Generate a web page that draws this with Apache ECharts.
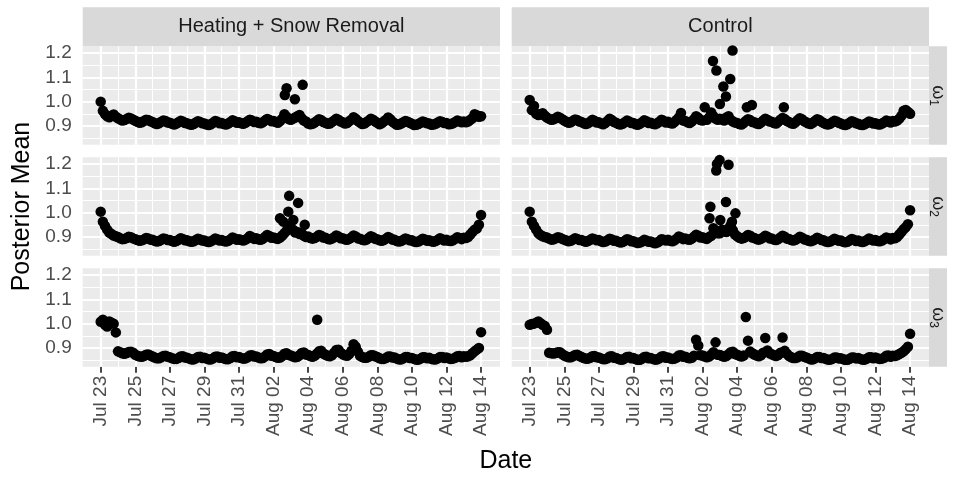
<!DOCTYPE html>
<html>
<head>
<meta charset="utf-8">
<script src="https://cdn.jsdelivr.net/npm/echarts@6/dist/echarts.min.js"></script>
<style>
  html, body { margin: 0; padding: 0; background: #ffffff; }
  #chart { width: 957px; height: 477px; }
</style>
</head>
<body>
<div id="chart"></div>
<script>
// ---- data -------------------------------------------------------------
// Day 0 is Jul 23; posterior means are sampled every 3 hours (0.125 day),
// one row of eight values per day, plus the final midnight value.
const startDateUTC = Date.UTC(2019, 6, 23);
const sampleStepDays = 0.125;
const monthNames = ['Jan','Feb','Mar','Apr','May','Jun','Jul','Aug','Sep','Oct','Nov','Dec'];

const treatments = ['Heating + Snow Removal', 'Control'];
const parameterSubscripts = ['1', '2', '3'];

const xTickDays = [0, 2, 4, 6, 8, 10, 12, 14, 16, 18, 20, 22];
const xMinorDays = [1, 3, 5, 7, 9, 11, 13, 15, 17, 19, 21];
const yTickValues = [0.9, 1.0, 1.1, 1.2];
const yMinorValues = [0.85, 0.95, 1.05, 1.15];

// omega 1, Heating + Snow Removal
const omega1Heating = [
  1.000, 0.962, 0.948, 0.940, 0.936, 0.942, 0.947, 0.938,
  0.932, 0.927, 0.922, 0.924, 0.929, 0.934, 0.931, 0.926,
  0.921, 0.917, 0.913, 0.915, 0.920, 0.926, 0.924, 0.919,
  0.916, 0.911, 0.908, 0.911, 0.917, 0.922, 0.920, 0.914,
  0.913, 0.909, 0.906, 0.910, 0.915, 0.921, 0.918, 0.912,
  0.911, 0.907, 0.905, 0.908, 0.914, 0.919, 0.916, 0.911,
  0.910, 0.906, 0.904, 0.907, 0.913, 0.920, 0.917, 0.911,
  0.912, 0.908, 0.906, 0.910, 0.916, 0.923, 0.919, 0.913,
  0.915, 0.911, 0.909, 0.913, 0.919, 0.926, 0.922, 0.916,
  0.917, 0.913, 0.911, 0.915, 0.922, 0.929, 0.925, 0.919,
  0.920, 0.916, 0.913, 0.920, 0.930, 0.948, 0.938, 0.928,
  0.925, 0.930, 0.935, 0.940, 0.945, 0.932, 0.922, 0.918,
  0.910, 0.907, 0.909, 0.914, 0.920, 0.928, 0.924, 0.916,
  0.913, 0.909, 0.910, 0.916, 0.922, 0.930, 0.926, 0.918,
  0.915, 0.910, 0.912, 0.919, 0.926, 0.936, 0.930, 0.920,
  0.914, 0.908, 0.910, 0.916, 0.922, 0.930, 0.926, 0.918,
  0.913, 0.907, 0.911, 0.918, 0.925, 0.935, 0.928, 0.917,
  0.911, 0.905, 0.906, 0.910, 0.915, 0.920, 0.917, 0.913,
  0.909, 0.904, 0.905, 0.908, 0.913, 0.918, 0.915, 0.911,
  0.910, 0.905, 0.906, 0.909, 0.914, 0.919, 0.916, 0.912,
  0.912, 0.907, 0.908, 0.911, 0.916, 0.922, 0.919, 0.915,
  0.918, 0.915, 0.918, 0.925, 0.932, 0.948, 0.944, 0.938,
  0.940
];
const omega1HeatingExtra = [[10.65, 1.027], [10.75, 1.055], [11.23, 1.010], [11.68, 1.069]];

// omega 1, Control
const omega1Control = [
  1.007, 0.965, 0.982, 0.950, 0.945, 0.948, 0.952, 0.942,
  0.935, 0.929, 0.925, 0.927, 0.932, 0.938, 0.934, 0.928,
  0.922, 0.917, 0.913, 0.915, 0.921, 0.927, 0.924, 0.918,
  0.916, 0.911, 0.908, 0.911, 0.917, 0.925, 0.921, 0.914,
  0.915, 0.910, 0.907, 0.912, 0.920, 0.930, 0.924, 0.916,
  0.913, 0.908, 0.906, 0.909, 0.915, 0.922, 0.918, 0.912,
  0.912, 0.907, 0.905, 0.909, 0.915, 0.923, 0.919, 0.912,
  0.913, 0.909, 0.907, 0.911, 0.917, 0.926, 0.921, 0.914,
  0.917, 0.912, 0.910, 0.916, 0.925, 0.935, 0.953, 0.922,
  0.920, 0.915, 0.912, 0.918, 0.928, 0.940, 0.934, 0.924,
  0.922, 0.977, 0.925, 0.935, 0.955, 0.940, 0.930, 0.925,
  0.930, 0.926, 0.922, 0.935, 0.940, 0.925, 0.918, 0.914,
  0.912, 0.908, 0.906, 0.912, 0.920, 0.928, 0.924, 0.916,
  0.915, 0.910, 0.908, 0.914, 0.922, 0.930, 0.926, 0.918,
  0.917, 0.912, 0.910, 0.917, 0.926, 0.933, 0.929, 0.920,
  0.916, 0.911, 0.909, 0.915, 0.924, 0.932, 0.928, 0.919,
  0.915, 0.910, 0.908, 0.913, 0.920, 0.928, 0.924, 0.917,
  0.912, 0.908, 0.906, 0.909, 0.915, 0.921, 0.918, 0.913,
  0.910, 0.906, 0.904, 0.907, 0.913, 0.919, 0.916, 0.911,
  0.909, 0.905, 0.904, 0.907, 0.912, 0.918, 0.915, 0.910,
  0.911, 0.907, 0.906, 0.910, 0.915, 0.922, 0.919, 0.914,
  0.920, 0.918, 0.922, 0.930, 0.942, 0.962, 0.966, 0.958,
  0.950
];
const omega1ControlExtra = [[10.6, 1.167], [10.8, 1.128], [11.0, 0.990], [11.2, 1.062],
  [11.35, 1.021], [11.6, 1.093], [11.73, 1.210], [12.56, 0.977], [12.85, 0.986], [14.7, 0.977]];

// omega 2, Heating + Snow Removal
const omega2Heating = [
  1.004, 0.963, 0.945, 0.930, 0.918, 0.912, 0.906, 0.903,
  0.900, 0.895, 0.891, 0.892, 0.896, 0.901, 0.899, 0.894,
  0.891, 0.887, 0.884, 0.886, 0.890, 0.896, 0.894, 0.889,
  0.888, 0.884, 0.881, 0.883, 0.888, 0.894, 0.892, 0.887,
  0.887, 0.883, 0.880, 0.883, 0.888, 0.895, 0.892, 0.886,
  0.886, 0.882, 0.880, 0.882, 0.887, 0.893, 0.890, 0.885,
  0.885, 0.881, 0.879, 0.882, 0.887, 0.894, 0.891, 0.885,
  0.887, 0.883, 0.881, 0.884, 0.890, 0.898, 0.894, 0.888,
  0.891, 0.887, 0.885, 0.889, 0.895, 0.904, 0.899, 0.892,
  0.895, 0.890, 0.888, 0.892, 0.900, 0.908, 0.904, 0.897,
  0.898, 0.894, 0.892, 0.898, 0.906, 0.915, 0.925, 0.945,
  0.935, 0.930, 0.918, 0.920, 0.912, 0.915, 0.905, 0.900,
  0.902, 0.896, 0.893, 0.896, 0.901, 0.908, 0.905, 0.898,
  0.897, 0.892, 0.890, 0.893, 0.899, 0.906, 0.902, 0.895,
  0.895, 0.890, 0.888, 0.892, 0.898, 0.906, 0.902, 0.894,
  0.893, 0.888, 0.886, 0.889, 0.896, 0.903, 0.899, 0.892,
  0.891, 0.886, 0.884, 0.887, 0.893, 0.900, 0.896, 0.889,
  0.888, 0.883, 0.881, 0.883, 0.888, 0.894, 0.891, 0.886,
  0.886, 0.881, 0.879, 0.881, 0.886, 0.893, 0.890, 0.884,
  0.886, 0.882, 0.880, 0.883, 0.888, 0.895, 0.891, 0.885,
  0.888, 0.884, 0.883, 0.886, 0.892, 0.899, 0.896, 0.891,
  0.897, 0.896, 0.900, 0.910, 0.920, 0.930, 0.935, 0.950,
  0.990
];
const omega2HeatingExtra = [[10.37, 0.977], [10.56, 0.963], [10.85, 1.004], [10.9, 1.069],
  [11.14, 0.970], [11.42, 1.040], [11.8, 0.950]];

// omega 2, Control
const omega2Control = [
  1.004, 0.963, 0.945, 0.930, 0.915, 0.908, 0.903, 0.900,
  0.898, 0.893, 0.889, 0.890, 0.894, 0.899, 0.897, 0.892,
  0.889, 0.885, 0.882, 0.884, 0.889, 0.895, 0.892, 0.887,
  0.887, 0.883, 0.880, 0.883, 0.888, 0.894, 0.891, 0.886,
  0.887, 0.882, 0.879, 0.881, 0.886, 0.893, 0.890, 0.884,
  0.884, 0.880, 0.877, 0.879, 0.884, 0.891, 0.888, 0.882,
  0.882, 0.878, 0.875, 0.877, 0.881, 0.888, 0.885, 0.880,
  0.881, 0.877, 0.874, 0.877, 0.882, 0.891, 0.889, 0.885,
  0.888, 0.884, 0.882, 0.886, 0.893, 0.902, 0.898, 0.891,
  0.894, 0.890, 0.888, 0.893, 0.901, 0.909, 0.905, 0.898,
  0.899, 0.895, 0.892, 0.900, 0.905, 0.936, 0.925, 0.915,
  0.915, 0.930, 0.925, 0.920, 0.935, 0.948, 0.928, 0.910,
  0.903, 0.897, 0.893, 0.896, 0.901, 0.908, 0.905, 0.898,
  0.896, 0.891, 0.889, 0.892, 0.898, 0.905, 0.901, 0.894,
  0.894, 0.889, 0.887, 0.891, 0.898, 0.905, 0.901, 0.893,
  0.892, 0.887, 0.885, 0.888, 0.894, 0.901, 0.897, 0.890,
  0.889, 0.884, 0.882, 0.885, 0.890, 0.897, 0.893, 0.887,
  0.886, 0.881, 0.879, 0.881, 0.886, 0.893, 0.889, 0.884,
  0.885, 0.880, 0.878, 0.880, 0.885, 0.892, 0.888, 0.883,
  0.885, 0.881, 0.879, 0.882, 0.887, 0.894, 0.890, 0.885,
  0.887, 0.883, 0.882, 0.885, 0.891, 0.898, 0.895, 0.890,
  0.896, 0.895, 0.900, 0.910, 0.920, 0.932, 0.940, 0.952,
  1.010
];
const omega2ControlExtra = [[10.4, 0.977], [10.45, 1.024], [10.79, 1.173], [10.83, 1.200],
  [10.98, 1.216], [11.02, 0.970], [11.35, 1.044], [11.5, 1.197], [11.7, 0.963], [11.9, 0.997]];

// omega 3, Heating + Snow Removal
const omega3Heating = [
  1.008, 1.016, 0.995, 0.988, 1.009, 1.004, 1.000, 0.964,
  0.886, 0.882, 0.878, 0.876, 0.879, 0.883, 0.884, 0.880,
  0.872, 0.868, 0.865, 0.864, 0.867, 0.872, 0.873, 0.869,
  0.865, 0.861, 0.858, 0.858, 0.862, 0.867, 0.868, 0.864,
  0.862, 0.858, 0.855, 0.855, 0.859, 0.865, 0.866, 0.861,
  0.860, 0.856, 0.853, 0.853, 0.857, 0.863, 0.864, 0.859,
  0.860, 0.856, 0.853, 0.853, 0.857, 0.864, 0.865, 0.860,
  0.861, 0.857, 0.854, 0.854, 0.859, 0.866, 0.867, 0.862,
  0.863, 0.859, 0.856, 0.857, 0.862, 0.869, 0.870, 0.865,
  0.865, 0.861, 0.858, 0.859, 0.865, 0.873, 0.875, 0.868,
  0.867, 0.863, 0.860, 0.861, 0.867, 0.876, 0.878, 0.871,
  0.869, 0.865, 0.862, 0.864, 0.870, 0.879, 0.881, 0.873,
  0.871, 0.867, 0.864, 0.868, 0.876, 0.886, 0.888, 0.877,
  0.872, 0.868, 0.866, 0.870, 0.880, 0.892, 0.893, 0.880,
  0.874, 0.870, 0.868, 0.875, 0.888, 0.915, 0.905, 0.885,
  0.868, 0.863, 0.860, 0.860, 0.864, 0.870, 0.870, 0.866,
  0.863, 0.858, 0.855, 0.855, 0.859, 0.865, 0.865, 0.861,
  0.861, 0.856, 0.853, 0.853, 0.857, 0.863, 0.863, 0.859,
  0.859, 0.855, 0.852, 0.852, 0.856, 0.862, 0.862, 0.858,
  0.860, 0.855, 0.853, 0.853, 0.857, 0.863, 0.863, 0.859,
  0.861, 0.857, 0.855, 0.856, 0.860, 0.866, 0.867, 0.862,
  0.866, 0.864, 0.866, 0.870, 0.878, 0.886, 0.893, 0.900,
  0.965
];
const omega3HeatingExtra = [[12.52, 1.016]];

// omega 3, Control
const omega3Control = [
  0.995, 0.998, 1.000, 1.004, 1.009, 1.002, 0.995, 0.990,
  0.975, 0.880, 0.878, 0.877, 0.879, 0.882, 0.882, 0.875,
  0.869, 0.865, 0.862, 0.862, 0.866, 0.871, 0.872, 0.867,
  0.863, 0.859, 0.856, 0.856, 0.860, 0.866, 0.867, 0.862,
  0.861, 0.857, 0.854, 0.854, 0.858, 0.865, 0.866, 0.860,
  0.859, 0.855, 0.852, 0.852, 0.857, 0.863, 0.864, 0.858,
  0.859, 0.854, 0.851, 0.851, 0.856, 0.863, 0.864, 0.858,
  0.859, 0.855, 0.852, 0.853, 0.858, 0.865, 0.866, 0.860,
  0.861, 0.857, 0.855, 0.856, 0.861, 0.869, 0.870, 0.864,
  0.864, 0.860, 0.858, 0.860, 0.868, 0.934, 0.910, 0.870,
  0.869, 0.865, 0.862, 0.865, 0.872, 0.882, 0.923, 0.872,
  0.871, 0.867, 0.864, 0.867, 0.874, 0.882, 0.884, 0.875,
  0.872, 0.868, 0.865, 0.869, 1.027, 0.930, 0.885, 0.878,
  0.873, 0.869, 0.866, 0.870, 0.880, 0.941, 0.890, 0.878,
  0.874, 0.870, 0.867, 0.871, 0.880, 0.943, 0.888, 0.876,
  0.867, 0.862, 0.859, 0.859, 0.862, 0.868, 0.868, 0.864,
  0.861, 0.857, 0.853, 0.853, 0.857, 0.863, 0.863, 0.859,
  0.859, 0.855, 0.852, 0.852, 0.855, 0.861, 0.861, 0.857,
  0.858, 0.854, 0.851, 0.851, 0.855, 0.861, 0.861, 0.857,
  0.859, 0.855, 0.852, 0.852, 0.856, 0.862, 0.862, 0.858,
  0.861, 0.857, 0.855, 0.856, 0.860, 0.868, 0.869, 0.864,
  0.868, 0.867, 0.870, 0.875, 0.880, 0.886, 0.895, 0.905,
  0.958
];
const omega3ControlExtra = [];

// ---- layout -----------------------------------------------------------
const FONT = '"Liberation Sans", Arial, Helvetica, sans-serif';
const colLeft = [82.7, 511.7];
const panelWidth = 417.3;
const rowTop = [46.3, 157.3, 268.3];
const panelHeight = 98.5;
const X_MIN = -1.041, X_MAX = 23.094;
const Y_MIN = 0.8225, Y_MAX = 1.2275;
const STRIP_H = 39;
const STRIP_RIGHT_W = 18;
const TICK_FONT = 19;

const panelSeries = [
  [omega1Heating, omega1HeatingExtra, omega1Control, omega1ControlExtra],
  [omega2Heating, omega2HeatingExtra, omega2Control, omega2ControlExtra],
  [omega3Heating, omega3HeatingExtra, omega3Control, omega3ControlExtra]
];

function dayLabel(d) {
  const t = new Date(startDateUTC + d * 86400000);
  const dd = t.getUTCDate();
  return monthNames[t.getUTCMonth()] + ' ' + (dd < 10 ? '0' + dd : dd);
}

const grids = [], xAxes = [], yAxes = [], series = [], graphics = [];

for (let r = 0; r < 3; r++) {
  for (let c = 0; c < 2; c++) {
    const idx = grids.length;
    const bottomRow = r === 2, leftCol = c === 0;
    grids.push({
      left: colLeft[c], top: rowTop[r], width: panelWidth, height: panelHeight,
      show: true, backgroundColor: '#EBEBEB', borderWidth: 0, containLabel: false
    });
    xAxes.push({
      type: 'value', gridIndex: idx, min: X_MIN, max: X_MAX,
      axisLine: { show: false },
      splitLine: { show: false },
      axisTick: {
        show: bottomRow, customValues: xTickDays, length: 6, inside: false,
        lineStyle: { color: '#333333', width: 1.8 }
      },
      axisLabel: {
        show: bottomRow, customValues: xTickDays, rotate: 90, margin: 9,
        color: '#4D4D4D', fontSize: TICK_FONT, fontFamily: FONT,
        formatter: v => dayLabel(v)
      }
    });
    yAxes.push({
      type: 'value', gridIndex: idx, min: Y_MIN, max: Y_MAX,
      axisLine: { show: false },
      splitLine: { show: false },
      axisTick: {
        show: leftCol, customValues: yTickValues, length: 6,
        lineStyle: { color: '#333333', width: 1.8 }
      },
      axisLabel: {
        show: leftCol, customValues: yTickValues, margin: 11,
        color: '#4D4D4D', fontSize: TICK_FONT, fontFamily: FONT,
        formatter: v => v.toFixed(1)
      }
    });

    // panel grid lines
    const lines = [];
    xMinorDays.forEach(d => lines.push({ xAxis: d, lineStyle: { width: 1.1 } }));
    yMinorValues.forEach(v => lines.push({ yAxis: v, lineStyle: { width: 1.1 } }));
    xTickDays.forEach(d => lines.push({ xAxis: d, lineStyle: { width: 2.2 } }));
    yTickValues.forEach(v => lines.push({ yAxis: v, lineStyle: { width: 2.2 } }));
    series.push({
      type: 'scatter', xAxisIndex: idx, yAxisIndex: idx, data: [], silent: true, z: 1,
      markLine: {
        silent: true, animation: false, symbol: ['none', 'none'], z: 1,
        label: { show: false },
        lineStyle: { color: '#FFFFFF', type: 'solid', opacity: 1 },
        emphasis: { disabled: true },
        data: lines
      }
    });

    // posterior means
    const base = panelSeries[r][c * 2];
    const extra = panelSeries[r][c * 2 + 1];
    const pts = base.map((v, k) => [k * sampleStepDays, v]).concat(extra);
    series.push({
      type: 'scatter', xAxisIndex: idx, yAxisIndex: idx, z: 5,
      symbol: 'circle', symbolSize: 10.5, data: pts, animation: false,
      large: false, itemStyle: { color: '#000000', opacity: 1 }
    });
  }
}

// strips along the top (treatment) and right side (parameter)
for (let c = 0; c < 2; c++) {
  graphics.push({
    type: 'rect', shape: { x: colLeft[c], y: rowTop[0] - STRIP_H, width: panelWidth, height: STRIP_H },
    style: { fill: '#D9D9D9' }, silent: true
  });
  graphics.push({
    type: 'text', x: colLeft[c] + panelWidth / 2, y: rowTop[0] - STRIP_H / 2,
    style: { text: treatments[c], fill: '#1A1A1A', font: '20px ' + FONT, align: 'center', verticalAlign: 'middle' },
    silent: true
  });
}
const stripX = colLeft[1] + panelWidth;
for (let r = 0; r < 3; r++) {
  graphics.push({
    type: 'rect', shape: { x: stripX, y: rowTop[r], width: STRIP_RIGHT_W, height: panelHeight },
    style: { fill: '#D9D9D9' }, silent: true
  });
  graphics.push({
    type: 'text', x: stripX + STRIP_RIGHT_W / 2, y: rowTop[r] + panelHeight / 2,
    rotation: -Math.PI / 2,
    style: {
      text: '{w|ω}{s|' + parameterSubscripts[r] + '}',
      align: 'center', verticalAlign: 'middle', fill: '#1A1A1A',
      rich: {
        w: { fontSize: 18, fontFamily: FONT, lineHeight: 22, fill: '#1A1A1A' },
        s: { fontSize: 12, fontFamily: FONT, lineHeight: 12, verticalAlign: 'bottom', fill: '#1A1A1A' }
      }
    },
    silent: true
  });
}
// axis titles
graphics.push({
  type: 'text', x: 22, y: rowTop[1] + panelHeight / 2, rotation: Math.PI / 2,
  style: { text: 'Posterior Mean', fill: '#000000', font: '25px ' + FONT, align: 'center', verticalAlign: 'middle' },
  silent: true
});
graphics.push({
  type: 'text', x: (colLeft[0] + colLeft[1] + panelWidth) / 2, y: 461,
  style: { text: 'Date', fill: '#000000', font: '25px ' + FONT, align: 'center', verticalAlign: 'middle' },
  silent: true
});

const chart = echarts.init(document.getElementById('chart'), null, { renderer: 'canvas' });
chart.setOption({
  animation: false,
  backgroundColor: '#FFFFFF',
  grid: grids,
  xAxis: xAxes,
  yAxis: yAxes,
  series: series,
  graphic: { elements: graphics }
});
</script>
</body>
</html>
